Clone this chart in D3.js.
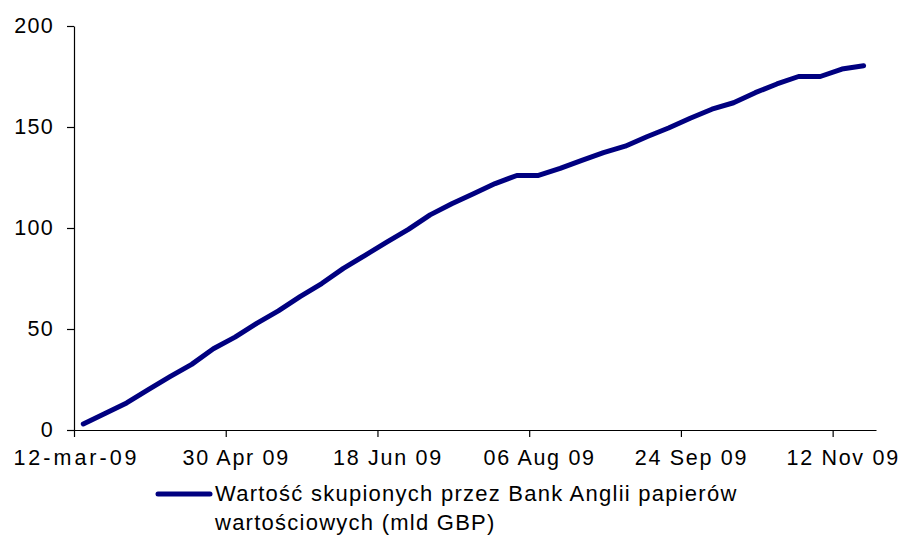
<!DOCTYPE html>
<html>
<head>
<meta charset="utf-8">
<script src="https://cdn.jsdelivr.net/npm/d3@7"></script>
<style>
  body { margin: 0; background: #fff; }
  text { font-family: "Liberation Sans", Arial, sans-serif; fill: #000; }
</style>
</head>
<body>
<div id="chart"></div>
<script>
// weekly cumulative asset purchases, first week ending 15 Mar 2009
const startDate = "2009-03-15";
const values = [
  3, 8.2, 13.4, 20, 26.4, 32.5, 40.2, 46, 52.8, 59,
  66, 72.5, 80, 86.5, 93, 99.3, 106.5, 112, 117, 122,
  126, 126, 129.5, 133.5, 137.3, 140.5, 145.2, 149.5, 154.3, 158.8,
  162, 167, 171.3, 175, 175, 178.7, 180.3
];
const xTickDates = ["2009-03-12", "2009-04-30", "2009-06-18", "2009-08-06", "2009-09-24", "2009-11-12"];
const xTickLabels = ["12-mar-09", "30 Apr 09", "18 Jun 09", "06 Aug 09", "24 Sep 09", "12 Nov 09"];
const yTicks = [0, 50, 100, 150, 200];
const seriesName = ["Wartość skupionych przez Bank Anglii papierów", "wartościowych (mld GBP)"];

const width = 901;
const height = 535;

const parse = d3.utcParse("%Y-%m-%d");
const start = parse(startDate);
const data = values.map((v, i) => ({ date: d3.utcDay.offset(start, i * 7), value: v }));
const tickDates = xTickDates.map(parse);

const svg = d3.select("#chart").append("svg")
  .attr("width", width)
  .attr("height", height);

const x = d3.scaleUtc()
  .domain([parse("2009-03-12"), parse("2009-11-26")])
  .range([74, 876]);

const y = d3.scaleLinear()
  .domain([0, 200])
  .range([430, 26]);

// y axis
const yAxis = svg.append("g")
  .attr("transform", "translate(74,0)")
  .call(d3.axisLeft(y).tickValues(yTicks).tickSize(7).tickSizeOuter(0).tickPadding(13));

yAxis.selectAll("text")
  .style("font-size", "21.5px")
  .style("letter-spacing", "1.3px")
  .attr("font-family", null);

// x axis
const xAxis = svg.append("g")
  .attr("transform", "translate(0,430)")
  .call(d3.axisBottom(x).tickValues(tickDates).tickSize(7).tickSizeOuter(0).tickPadding(8)
    .tickFormat((d, i) => xTickLabels[i]));

xAxis.selectAll("text")
  .style("font-size", "21.5px")
  .style("letter-spacing", (d, i) => i === 0 ? "3px" : "1.7px")
  .attr("font-family", null)
  .attr("dy", "0.93em")
  .attr("dx", (d, i) => i === 0 ? 2 : 10);

svg.selectAll(".domain, .tick line")
  .attr("stroke", "#000")
  .attr("stroke-width", 1.2);

// the series
const line = d3.line()
  .x(d => x(d.date))
  .y(d => y(d.value));

svg.append("path")
  .datum(data)
  .attr("d", line)
  .attr("fill", "none")
  .attr("stroke", "#000080")
  .attr("stroke-width", 5)
  .attr("stroke-linejoin", "round")
  .attr("stroke-linecap", "round");

// legend
const legend = svg.append("g");

legend.append("line")
  .attr("x1", 158)
  .attr("x2", 210)
  .attr("y1", 494)
  .attr("y2", 494)
  .attr("stroke", "#000080")
  .attr("stroke-width", 5)
  .attr("stroke-linecap", "round");

legend.selectAll(".legend-text")
  .data(seriesName)
  .enter().append("text")
  .attr("class", "legend-text")
  .attr("x", 215)
  .attr("y", (d, i) => 501 + i * 29)
  .style("font-size", "22px")
  .style("letter-spacing", "1.25px")
  .text(d => d);
</script>
</body>
</html>
